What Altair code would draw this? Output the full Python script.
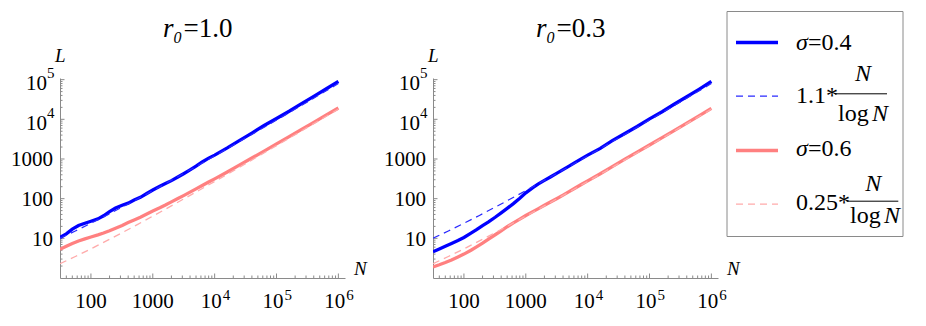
import altair as alt
import pandas as pd

# ---------------- data ----------------
N_SOLID = [31.6, 40, 50, 63, 80, 100, 130, 160, 200, 250, 320, 400, 500, 630, 800,
           1000, 1300, 1600, 2000, 2500, 3200, 4000, 5000, 6300, 8000, 10000,
           16000, 25000, 40000, 63000, 100000, 160000, 250000, 400000, 630000, 1000000]

BLUE_R10 = [10.5, 13, 17, 21, 24, 27, 31, 37, 47, 58, 68, 77, 92, 108, 135,
            165, 205, 240, 285, 345, 430, 530, 660, 840, 1050, 1250,
            1900, 2900, 4500, 7000, 10500, 16000, 24500, 38000, 58000, 90000]
RED_R10 = [5.3, 6.3, 7.4, 8.6, 9.7, 10.8, 12.2, 13.6, 15.5, 18, 21, 25, 29, 34, 41,
           49, 59, 69, 83, 99, 121, 146, 176, 214, 262, 315,
           470, 700, 1060, 1580, 2400, 3650, 5500, 8400, 12700, 19300]

BLUE_R03 = [4.6, 5.4, 6.3, 7.4, 8.8, 10.5, 13.5, 16.5, 21, 26, 34, 44, 57, 75, 102,
            140, 190, 237, 290, 352, 440, 540, 660, 820, 1020, 1250,
            1850, 2900, 4400, 6600, 10300, 15500, 24000, 37000, 57000, 90000]
RED_R03 = [1.9, 2.15, 2.45, 2.85, 3.4, 4.0, 5.0, 6.1, 7.6, 9.6, 12.3, 15.5, 19.6, 24.5, 30.5,
           37.5, 47, 56, 68, 82, 101, 123, 151, 186, 230, 281,
           425, 640, 990, 1490, 2250, 3450, 5200, 8000, 12200, 18800]

N_FIT = [31.6, 56, 100, 178, 316, 562, 1000, 1778, 3162, 5623, 10000, 17783, 31623,
         56234, 100000, 177828, 316228, 562341, 1000000]
FIT_BLUE = [10.09, 15.3, 23.89, 37.8, 60.4, 97.6, 159.2, 261.7, 431.9, 715.5, 1194, 1998,
            3360, 5669, 9554, 16170, 27480, 46740, 79620]
FIT_RED = [2.29, 3.48, 5.43, 8.59, 13.73, 22.2, 36.19, 59.5, 98.2, 162.6, 271.4, 454.1,
           763.7, 1288, 2171, 3675, 6245, 10623, 18096]

TITLES = ["1.0", "0.3"]
X_PLAIN = [100, 1000]
X_POW = [10000, 100000, 1000000]
X_EXP = ["4", "5", "6"]
Y_PLAIN = [10, 100, 1000]
Y_POW = [10000, 100000]
Y_EXP = ["4", "5"]
X_MINOR = [40, 50, 60, 70, 80, 90] + [m * 10 ** k for k in range(2, 6) for m in range(2, 10)]
Y_MINOR = [m * 10 ** k for k in range(0, 5) for m in range(2, 10)]

# ---------------- styling ----------------
W, H = 285, 200
SERIF = "Liberation Serif"
GRAY = "#8a8a8a"
BLUE = "#0000FF"
BLUE_D = "#2a2aff"
RED = "#FF8080"
RED_D = "#FFAAAA"
DASH = [7, 5]
LEG = 24

xs = alt.Scale(type="log", domain=[31.62, 1.28e6], nice=False)
ys = alt.Scale(type="log", domain=[1, 1.1e5], nice=False)
XAX = alt.Axis(labels=False, ticks=False, grid=False, domainColor=GRAY, domainWidth=1, title=None)
YAX = alt.Axis(labels=False, ticks=False, grid=False, domainColor=GRAY, domainWidth=1, title=None)
ONE = pd.DataFrame({"k": [0]})


def X(field):
    return alt.X(field, type="quantitative", scale=xs, axis=XAX)


def Y(field):
    return alt.Y(field, type="quantitative", scale=ys, axis=YAX)


def txt(s, x, y, size, italic=False, align="left"):
    kw = dict(text=s, font=SERIF, fontSize=size, align=align, baseline="alphabetic", color="black")
    if italic:
        kw["fontStyle"] = "italic"
    return alt.Chart(ONE).mark_text(**kw).encode(x=alt.value(x), y=alt.value(y))


def seg(x1, x2, y1, y2, color, width, dash=None):
    kw = dict(color=color, strokeWidth=width)
    if dash:
        kw["strokeDash"] = dash
    return alt.Chart(ONE).mark_rule(**kw).encode(
        x=alt.value(x1), x2=alt.value(x2), y=alt.value(y1), y2=alt.value(y2))


def line(ns, ls, color, width, dash=None):
    kw = dict(color=color, strokeWidth=width, clip=True)
    if dash:
        kw["strokeDash"] = dash
    return alt.Chart(pd.DataFrame({"N": ns, "L": ls})).mark_line(**kw).encode(
        x=X("N"), y=Y("L"), order=alt.Order("N:Q"))


def tlabels(vals, texts, size, align, **kw):
    df = pd.DataFrame({"v": vals, "t": texts})
    return alt.Chart(df).mark_text(font=SERIF, fontSize=size, align=align, baseline="alphabetic",
                                   color="black", **kw)


def panel(blue, red, tval, legend=False):
    layers = []
    # ticks (inward, Mathematica style)
    layers.append(alt.Chart(pd.DataFrame({"v": X_PLAIN + X_POW})).mark_rule(color=GRAY, strokeWidth=1)
                  .encode(x=X("v"), y=alt.value(H), y2=alt.value(H - 4.5)))
    layers.append(alt.Chart(pd.DataFrame({"v": X_MINOR})).mark_rule(color=GRAY, strokeWidth=1)
                  .encode(x=X("v"), y=alt.value(H), y2=alt.value(H - 2.5)))
    layers.append(alt.Chart(pd.DataFrame({"v": Y_PLAIN + Y_POW})).mark_rule(color=GRAY, strokeWidth=1)
                  .encode(y=Y("v"), x=alt.value(0), x2=alt.value(4.5)))
    layers.append(alt.Chart(pd.DataFrame({"v": Y_MINOR})).mark_rule(color=GRAY, strokeWidth=1)
                  .encode(y=Y("v"), x=alt.value(0), x2=alt.value(2.5)))
    # tick labels
    layers.append(tlabels(X_PLAIN, [str(v) for v in X_PLAIN], 21, "center")
                  .encode(x=X("v"), y=alt.value(H + 30), text="t:N"))
    layers.append(tlabels(X_POW, ["10"] * 3, 21, "left", dx=-14)
                  .encode(x=X("v"), y=alt.value(H + 30), text="t:N"))
    layers.append(tlabels(X_POW, X_EXP, 15, "left", dx=8)
                  .encode(x=X("v"), y=alt.value(H + 22), text="t:N"))
    layers.append(tlabels(Y_PLAIN, [str(v) for v in Y_PLAIN], 21, "right", dy=7.5)
                  .encode(y=Y("v"), x=alt.value(-7), text="t:N"))
    layers.append(tlabels(Y_POW, ["10"] * 2, 21, "right", dy=10.7)
                  .encode(y=Y("v"), x=alt.value(-13), text="t:N"))
    layers.append(tlabels(Y_POW, Y_EXP, 15, "left", dy=-1.3)
                  .encode(y=Y("v"), x=alt.value(-13), text="t:N"))
    # data lines
    layers.append(line(N_SOLID, blue, BLUE, 3.3))
    layers.append(line(N_FIT, FIT_BLUE, BLUE_D, 1.2, DASH))
    layers.append(line(N_SOLID, red, RED, 3.3))
    layers.append(line(N_FIT, FIT_RED, RED_D, 1.3, DASH))
    # axis names & title
    layers.append(txt("L", -5, -16.5, 19, italic=True))
    layers.append(txt("N", 294, H - 3, 19, italic=True))
    layers.append(txt("r", 103, -41.5, 27, italic=True))
    layers.append(txt("0", 113.5, -35, 16, italic=True))
    layers.append(txt("=" + tval, 123.5, -41.5, 27))
    if legend:
        layers.append(alt.Chart(ONE).mark_rect(fill="white", stroke=GRAY, strokeWidth=1).encode(
            x=alt.value(294), x2=alt.value(470), y=alt.value(-66.5), y2=alt.value(158.5)))
        layers.append(seg(303, 345, -35.5, -35.5, BLUE, 3.3))
        layers.append(seg(303, 345, 18.2, 18.2, BLUE_D, 1.2, DASH))
        layers.append(seg(303, 345, 72.5, 72.5, RED, 3.3))
        layers.append(seg(303, 345, 126.2, 126.2, RED_D, 1.3, DASH))
        layers.append(txt("σ", 363, -28.5, LEG, italic=True))
        layers.append(txt("=0.4", 375, -28.5, LEG))
        layers.append(txt("1.1*", 363, 24.5, LEG))
        layers.append(txt("N", 430, 3.2, LEG, italic=True, align="center"))
        layers.append(seg(402, 454, 15.8, 15.8, "black", 1))
        layers.append(txt("log", 405, 43, LEG))
        layers.append(txt("N", 439, 43, LEG, italic=True))
        layers.append(txt("σ", 363, 78.2, LEG, italic=True))
        layers.append(txt("=0.6", 375, 78.2, LEG))
        layers.append(txt("0.25*", 363, 132.2, LEG))
        layers.append(txt("N", 440.3, 113.2, LEG, italic=True, align="center"))
        layers.append(seg(413.7, 465.3, 123.2, 123.2, "black", 1))
        layers.append(txt("log", 417, 144.8, LEG))
        layers.append(txt("N", 451, 144.8, LEG, italic=True))
    return alt.layer(*layers).properties(width=W, height=H)


p1 = panel(BLUE_R10, RED_R10, TITLES[0])
p2 = panel(BLUE_R03, RED_R03, TITLES[1], legend=True)

chart = alt.hconcat(p1, p2, spacing=88, bounds="flush").properties(
    padding={"left": 3, "top": 3, "right": 5, "bottom": 5},
    background="white",
).configure_view(stroke=None)

chart.save("out.html", embed_options={"renderer": "svg", "actions": False})
